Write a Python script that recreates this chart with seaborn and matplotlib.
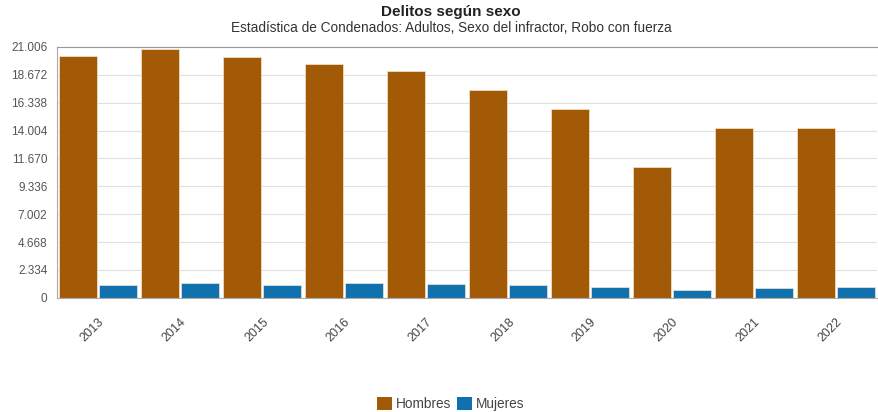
import numpy as np
import pandas as pd
import matplotlib
matplotlib.use('Agg')
import matplotlib.pyplot as plt
from matplotlib.ticker import FuncFormatter, FixedLocator
import seaborn as sns

# Data
years = ['2013', '2014', '2015', '2016', '2017', '2018', '2019', '2020', '2021', '2022']
hombres = [20250, 20840, 20170, 19580, 19000, 17410, 15820, 10960, 14230, 14200]
mujeres = [1090, 1260, 1090, 1250, 1200, 1100, 950, 670, 860, 950]
series = ['Hombres', 'Mujeres']
colors = ['#A35A06', '#1170AE']
yticks = [0, 2334, 4668, 7002, 9336, 11670, 14004, 16338, 18672, 21006]

df = pd.DataFrame({
    'year': years * 2,
    'sexo': [series[0]] * len(years) + [series[1]] * len(years),
    'valor': hombres + mujeres,
})

sns.set_style('white')
plt.rcParams['font.family'] = ['Liberation Sans', 'DejaVu Sans']

fig = plt.figure(figsize=(8.79, 4.12), dpi=100)
ax = fig.add_axes([0.065, 0.277, 0.933, 0.609])

sns.barplot(data=df, x='year', y='valor', hue='sexo', palette=colors,
            saturation=1, width=0.97, gap=0.04, ax=ax, legend=False,
            edgecolor='#f5e6d0', linewidth=0.5)

ax.set_xlim(-0.5, len(years) - 0.5)
ax.set_ylim(0, yticks[-1])
ax.set_yticks(yticks)
ax.yaxis.set_major_formatter(FuncFormatter(lambda v, p: f'{int(v):,}'.replace(',', '.')))
ax.yaxis.grid(True, color='#e0e0e0', linewidth=0.8)
ax.set_axisbelow(True)
ax.set_xlabel('')
ax.set_ylabel('')

ax.tick_params(axis='y', labelsize=8.5, colors='#555555', length=5, color='#aaaaaa', pad=2)
ax.tick_params(axis='x', which='major', labelsize=9, colors='#444444', length=0, pad=13)
ax.xaxis.set_minor_locator(FixedLocator(np.arange(-0.5, len(years), 1)))
ax.tick_params(axis='x', which='minor', length=4, color='#aaaaaa')
for lbl in ax.get_xticklabels():
    lbl.set_rotation(45)
    lbl.set_ha('right')
    lbl.set_rotation_mode('anchor')

ax.spines['right'].set_visible(False)
ax.spines['top'].set_color('#999999')
ax.spines['left'].set_color('#aaaaaa')
ax.spines['bottom'].set_color('#aaaaaa')

fig.text(0.513, 0.97, 'Delitos según sexo', ha='center', va='center',
         fontsize=11, fontweight='bold', color='#222222')
fig.text(0.513, 0.932, 'Estadística de Condenados: Adultos, Sexo del infractor, Robo con fuerza',
         ha='center', va='center', fontsize=9.8, color='#333333')

handles = [plt.Rectangle((0, 0), 1, 1, facecolor=c, edgecolor='none') for c in colors]
fig.legend(handles, series, loc='center', bbox_to_anchor=(0.513, 0.02), ncol=2,
           frameon=False, fontsize=9.8, handlelength=1.1, handleheight=1.1,
           handletextpad=0.3, columnspacing=0.4, labelcolor='#444444')

fig.savefig('out.png', dpi=100)
